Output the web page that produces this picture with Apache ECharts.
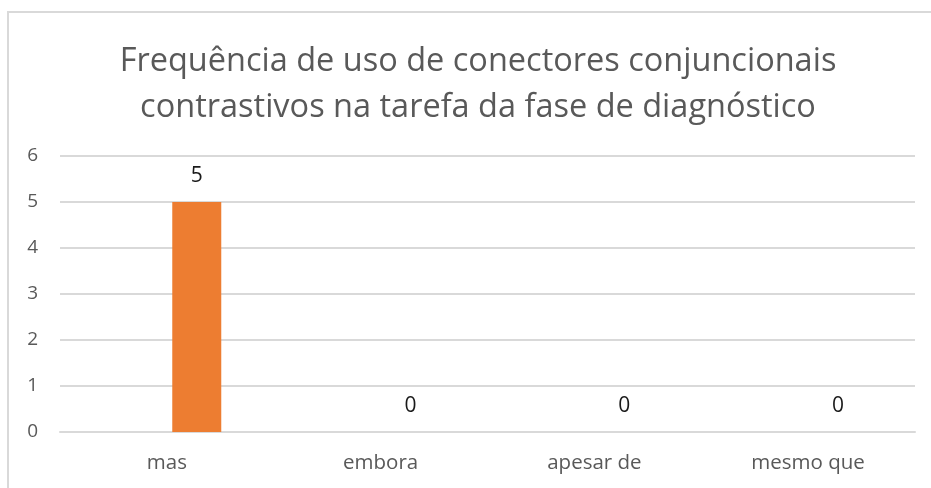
<!DOCTYPE html>
<html>
<head>
<meta charset="utf-8">
<script src="https://cdn.jsdelivr.net/npm/echarts@6/dist/echarts.min.js"></script>
<style>
  html, body { margin: 0; padding: 0; background: #fff; overflow: hidden; }
  #frame { position: absolute; left: 7px; top: 11px; width: 940px; height: 500px; border: 2px solid #d9d9d9; box-sizing: border-box; }
  #chart { position: absolute; left: 0; top: 0; width: 931px; height: 488px; }
</style>
</head>
<body>
<div id="frame"></div>
<div id="chart"></div>
<script>
// chart data
var titleText = 'Frequência de uso de conectores conjuncionais\ncontrastivos na tarefa da fase de diagnóstico';
var categories = ['mas', 'embora', 'apesar de', 'mesmo que'];
var emptySeries = [];            // unused first series in the original sheet
var frequency = [5, 0, 0, 0];
var yTicks = { min: 0, max: 6, interval: 1 };

var chart = echarts.init(document.getElementById('chart'));

var option = {
    animation: false,
    title: {
        text: titleText,
        left: 473,
        top: 34,
        textAlign: 'center',
        textStyle: {
            fontFamily: 'Open Sans',
            fontSize: 32.5,
            fontWeight: 'normal',
            color: '#595959',
            lineHeight: 46
        }
    },
    grid: { left: 60, right: 16, top: 156, bottom: 56 },
    xAxis: {
        type: 'category',
        data: categories,
        axisLine: { show: true, lineStyle: { color: '#d9d9d9', width: 2 } },
        axisTick: { show: false },
        axisLabel: {
            margin: 21,
            fontFamily: 'Open Sans',
            fontSize: 20.5,
            color: '#595959'
        }
    },
    yAxis: {
        type: 'value',
        min: yTicks.min,
        max: yTicks.max,
        interval: yTicks.interval,
        axisLine: { show: false },
        axisTick: { show: false },
        splitLine: { lineStyle: { color: '#d9d9d9', width: 2 } },
        axisLabel: {
            margin: 22,
            fontFamily: 'Open Sans',
            fontSize: 19,
            color: '#595959'
        }
    },
    series: [
        {
            type: 'bar',
            name: 'vazio',
            data: emptySeries,
            barWidth: 49,
            barGap: '22%'
        },
        {
            type: 'bar',
            name: 'Frequência',
            data: frequency,
            barWidth: 49,
            barGap: '22%',
            itemStyle: { color: '#ED7D31' },
            label: {
                show: true,
                position: 'top',
                distance: 15,
                fontFamily: 'Open Sans',
                fontSize: 21,
                color: '#1a1a1a'
            }
        }
    ]
};

chart.setOption(option);
</script>
</body>
</html>
